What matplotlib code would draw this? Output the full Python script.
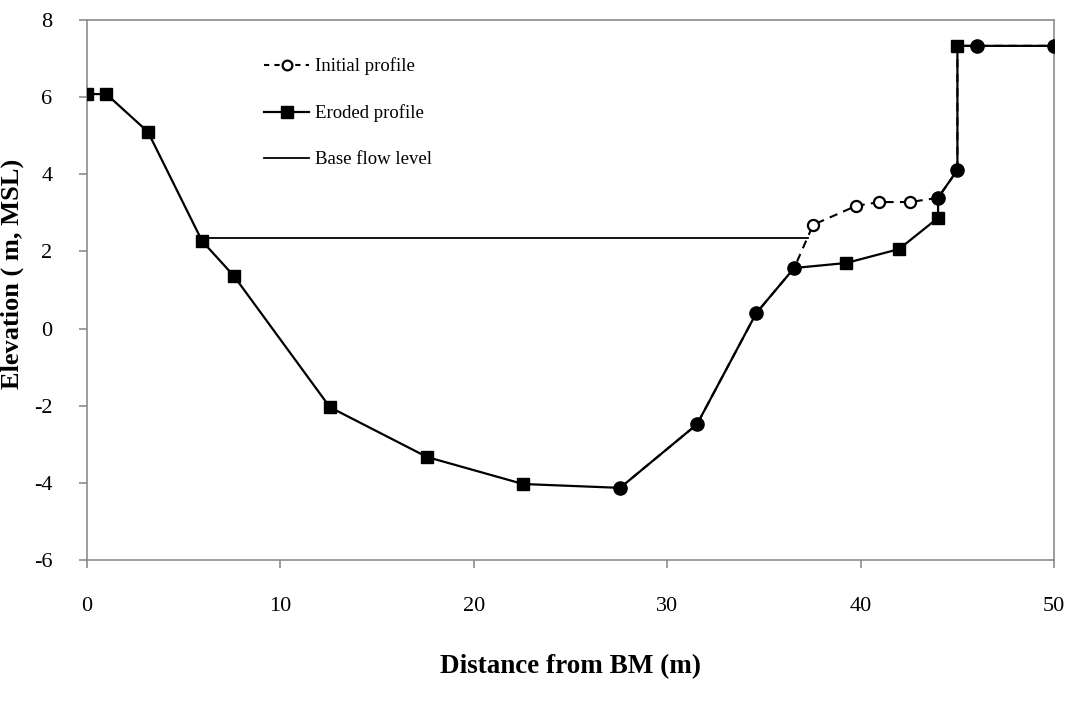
import matplotlib.pyplot as plt
from matplotlib.lines import Line2D

# ---------------------------------------------------------
# DATA
# ---------------------------------------------------------
eroded_x = [0.0, 1.0, 3.15, 5.95, 7.6, 12.56, 17.58, 22.54, 27.56, 31.54, 34.6,
            36.56, 39.25, 41.98, 44.0, 44.0, 45.0, 45.0, 46.0, 50.0]
eroded_y = [6.08, 6.08, 5.10, 2.27, 1.36, -2.04, -3.33, -4.03, -4.13, -2.48, 0.40,
            1.57, 1.70, 2.06, 2.87, 3.39, 4.11, 7.33, 7.33, 7.33]
# squares that are not hidden under the initial profile circles
eroded_marked = [0, 1, 2, 3, 4, 5, 6, 7, 12, 13, 14, 17]

initial_x = [27.56, 31.54, 34.6, 36.56, 37.54, 39.76, 40.95, 42.55, 44.0, 45.0,
             45.0, 46.0, 50.0]
initial_y = [-4.13, -2.48, 0.40, 1.57, 2.69, 3.18, 3.28, 3.28, 3.39, 4.11,
             7.33, 7.33, 7.33]
# points of the initial profile that are not shared with the eroded one
initial_open = [4, 5, 6, 7]
initial_shared = [0, 1, 2, 3, 8, 9, 11, 12]

base_x = [5.95, 37.28]
base_y = [2.35, 2.35]

x_ticks = [0, 10, 20, 30, 40, 50]
y_ticks = [-6, -4, -2, 0, 2, 4, 6, 8]

# ---------------------------------------------------------
# PLOT
# ---------------------------------------------------------
plt.rcParams["font.family"] = ["Liberation Serif", "DejaVu Serif"]
plt.rcParams["axes.unicode_minus"] = False

fig = plt.figure(figsize=(10.74, 7.02), dpi=100)
ax = fig.add_axes([0.081, 0.2023, 0.9005, 0.7692])

ax.plot(base_x, base_y, color="black", lw=1.3, zorder=2)
ax.plot(eroded_x, eroded_y, color="black", lw=1.6, marker="s", ms=8.5,
        markevery=eroded_marked, zorder=3)
ax.plot(initial_x, initial_y, color="black", lw=1.5, ls=(0, (4, 3)), zorder=4)
ax.plot(initial_x, initial_y, ls="none", marker="o", ms=8, mfc="white",
        mec="black", mew=1.6, markevery=initial_open, zorder=5)
ax.plot(initial_x, initial_y, ls="none", marker="o", ms=9.5, mfc="black",
        mec="black", markevery=initial_shared, zorder=5)

ax.set_xlim(0, 50)
ax.set_ylim(-6, 8)
ax.set_xticks(x_ticks)
ax.set_yticks(y_ticks)

for side in ["left", "right", "top", "bottom"]:
    ax.spines[side].set_color("#8c8c8c")
    ax.spines[side].set_linewidth(1.2)
ax.tick_params(axis="both", direction="out", length=6, width=1.2,
               color="#8c8c8c", labelsize=16)
ax.tick_params(axis="x", pad=21)
ax.tick_params(axis="y", pad=19)

ax.set_xlabel("Distance from BM (m)", fontsize=19.5, fontweight="bold", labelpad=27)
ax.set_ylabel("Elevation ( m, MSL)", fontsize=19, fontweight="bold")
ax.yaxis.set_label_coords(-0.065, 0.53)

handles = [
    Line2D([], [], color="black", lw=1.5, ls=(0, (2.5, 2.5)), marker="o", ms=7,
           mfc="white", mec="black", mew=1.6),
    Line2D([], [], color="black", lw=1.6, marker="s", ms=8),
    Line2D([], [], color="black", lw=1.3),
]
labels = ["Initial profile", "Eroded profile", "Base flow level"]
ax.legend(handles, labels, loc="upper left", bbox_to_anchor=(0.166, 0.962),
          frameon=False, fontsize=13.5, handlelength=2.4, handletextpad=0.3,
          labelspacing=1.55)

fig.savefig("out.png", dpi=100)
